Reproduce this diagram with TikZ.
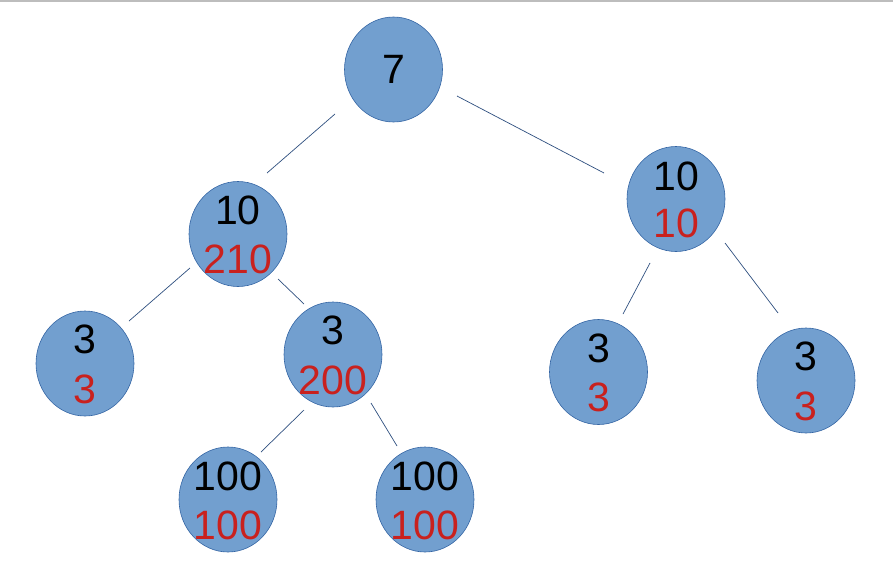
\documentclass[tikz,border=0pt]{standalone}
\usepackage{fontspec}
\setmainfont{Liberation Sans}
\usetikzlibrary{shapes.geometric}
\definecolor{nodefill}{HTML}{729FCF}
\definecolor{nodeline}{HTML}{3465A4}
\definecolor{edgeline}{HTML}{2E4F7F}
\definecolor{redtext}{HTML}{C9211E}
\definecolor{topline}{HTML}{BDBDBD}
\begin{document}
\begin{tikzpicture}[x=1pt,y=-1pt,
  treenode/.style={ellipse,draw=nodeline,fill=nodefill,line width=0.6pt,minimum width=98pt,minimum height=105pt,inner sep=0pt},
  toptext/.style={inner sep=0pt,font=\fontsize{41}{49}\selectfont,text=black},
  bottext/.style={inner sep=0pt,font=\fontsize{41}{49}\selectfont,text=redtext},
  edge/.style={draw=edgeline,line width=0.7pt}]
\useasboundingbox (0,0) rectangle (893,573);
\draw[topline,line width=1.5pt] (0,0.75) -- (893,0.75);
% nodes
\node[treenode] (root) at (393.5,69.5) {};
\node[treenode] (left) at (238,234) {};
\node[treenode] (right) at (676,199) {};
\node[treenode] (ll) at (85,363.5) {};
\node[treenode] (mid) at (333,354.5) {};
\node[treenode] (rl) at (598.5,372) {};
\node[treenode] (rr) at (806,380.5) {};
\node[treenode] (hl) at (228,499.5) {};
\node[treenode] (hr) at (425,499.5) {};
% texts
\node[toptext] (troot) at (root.center) {7};
\node[toptext] (tleft) at ([shift={(0,-24)}]left.center) {10};
\node[bottext] (bleft) at ([shift={(0,25)}]left.center) {210};
\node[toptext] (tright) at ([shift={(0,-23)}]right.center) {10};
\node[bottext] (bright) at ([shift={(0,24.5)}]right.center) {10};
\node[toptext] (tll) at ([shift={(0,-24)}]ll.center) {3};
\node[bottext] (bll) at ([shift={(0,25.5)}]ll.center) {3};
\node[toptext] (tmid) at ([shift={(0,-24)}]mid.center) {3};
\node[bottext] (bmid) at ([shift={(0,25.5)}]mid.center) {200};
\node[toptext] (trl) at ([shift={(0,-24)}]rl.center) {3};
\node[bottext] (brl) at ([shift={(0,25.5)}]rl.center) {3};
\node[toptext] (trr) at ([shift={(0,-24)}]rr.center) {3};
\node[bottext] (brr) at ([shift={(0,25.5)}]rr.center) {3};
\node[toptext] (thl) at ([shift={(0,-23.5)}]hl.center) {100};
\node[bottext] (bhl) at ([shift={(0,25.5)}]hl.center) {100};
\node[toptext] (thr) at ([shift={(0,-23.5)}]hr.center) {100};
\node[bottext] (bhr) at ([shift={(0,25.5)}]hr.center) {100};
% edges
\draw[edge] ([shift={(-58.5,44.5)}]root.center) -- ([shift={(29,-61)}]left.center);
\draw[edge] ([shift={(63.5,26.5)}]root.center) -- ([shift={(-72,-26)}]right.center);
\draw[edge] ([shift={(-48,34)}]left.center) -- ([shift={(44,-42.5)}]ll.center);
\draw[edge] ([shift={(40,45)}]left.center) -- ([shift={(-29,-50.5)}]mid.center);
\draw[edge] ([shift={(-29,55.5)}]mid.center) -- ([shift={(33,-47.5)}]hl.center);
\draw[edge] ([shift={(38,48.5)}]mid.center) -- ([shift={(-28,-53.5)}]hr.center);
\draw[edge] ([shift={(-26,64)}]right.center) -- ([shift={(24.5,-58)}]rl.center);
\draw[edge] ([shift={(49,44)}]right.center) -- ([shift={(-28,-67.5)}]rr.center);
\end{tikzpicture}
\end{document}
